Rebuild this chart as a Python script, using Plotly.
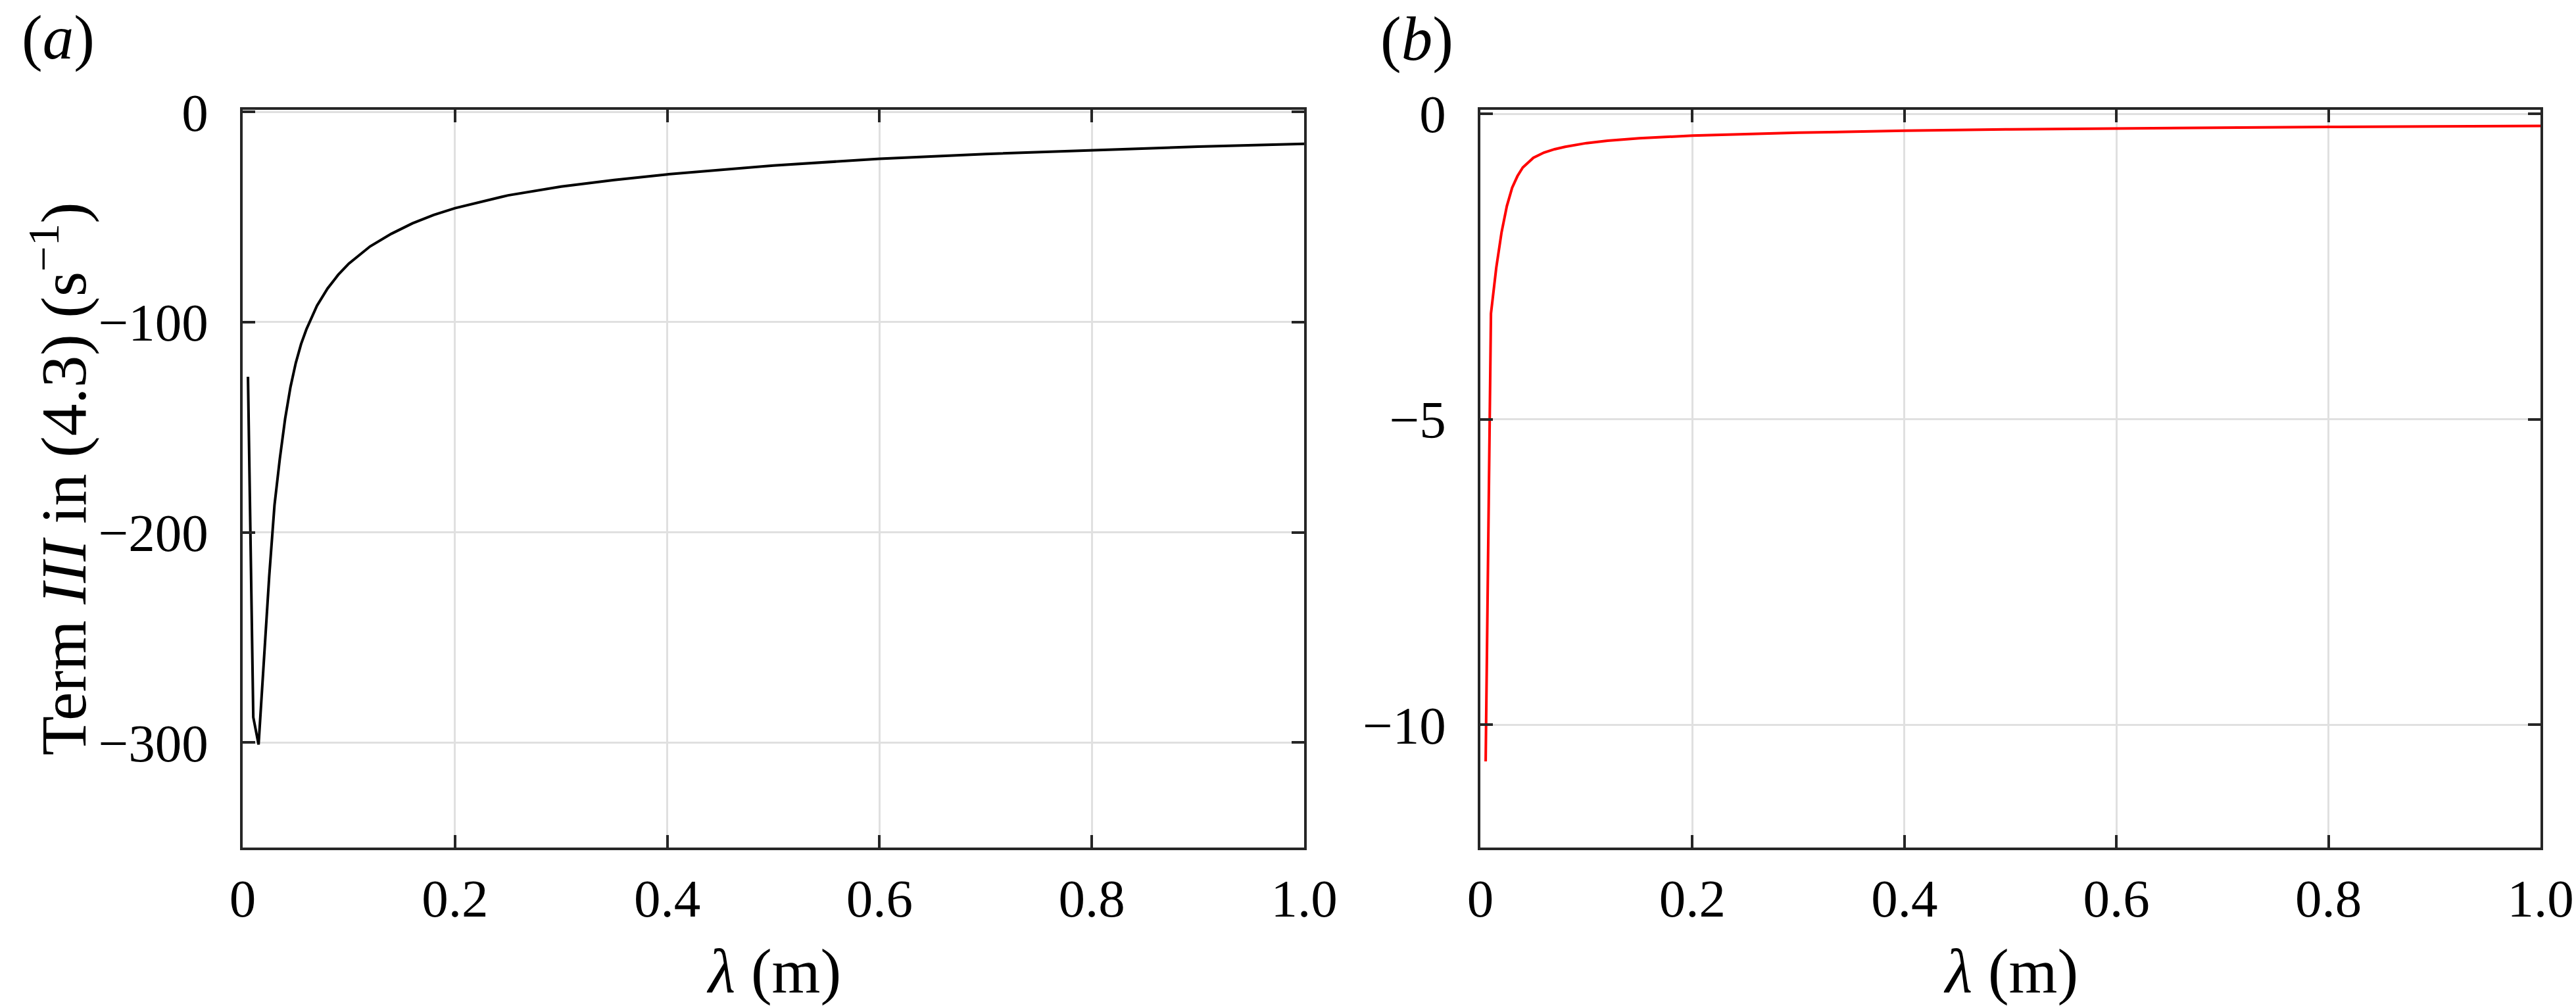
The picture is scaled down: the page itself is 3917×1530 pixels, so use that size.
import plotly.graph_objects as go

# panel (a): term III, black curve
lam_a = [0.005, 0.010, 0.015, 0.020, 0.025, 0.030, 0.035, 0.040, 0.045, 0.050,
         0.055, 0.060, 0.065, 0.070, 0.080, 0.090, 0.100, 0.120, 0.140, 0.160,
         0.180, 0.200, 0.250, 0.300, 0.350, 0.400, 0.500, 0.600, 0.700, 0.800,
         0.900, 1.000]
term_a = [-126, -288, -301, -259, -221, -187, -165, -146, -131, -119.5,
          -110.5, -103.5, -97.5, -92.2, -84, -77.5, -72.2, -64, -58, -53,
          -49, -45.8, -39.7, -35.5, -32.4, -29.7, -25.5, -22.3, -20.0, -18.1,
          -16.5, -15.2]

# panel (b): red curve
lam_b = [0.005, 0.010, 0.015, 0.020, 0.025, 0.030, 0.035, 0.040, 0.050, 0.060,
         0.070, 0.080, 0.100, 0.120, 0.150, 0.200, 0.300, 0.400, 0.500, 0.600,
         0.700, 0.800, 0.900, 1.000]
term_b = [-10.6, -3.27, -2.52, -1.94, -1.51, -1.21, -1.02, -0.88, -0.72, -0.635,
          -0.58, -0.54, -0.48, -0.44, -0.40, -0.358, -0.31, -0.276, -0.255, -0.24,
          -0.226, -0.215, -0.207, -0.20]

x_ticks = [0, 0.2, 0.4, 0.6, 0.8, 1.0]
x_ticktext = ["0", "0.2", "0.4", "0.6", "0.8", "1.0"]
ya_ticks = [0, -100, -200, -300]
ya_ticktext = ["0", "−100", "−200", "−300"]
yb_ticks = [0, -5, -10]
yb_ticktext = ["0", "−5", "−10"]

W, H = 3917, 1530
FONT = "Liberation Serif"
FRAME = "#262626"
GRID = "#e0e0e0"


def px(x):
    return x / W


def py(y):
    return 1 - y / H


fig = go.Figure()
fig.add_trace(go.Scatter(x=lam_a, y=term_a, mode="lines",
                         line=dict(color="black", width=4),
                         xaxis="x", yaxis="y", showlegend=False))
fig.add_trace(go.Scatter(x=lam_b, y=term_b, mode="lines",
                         line=dict(color="#ff0000", width=4),
                         xaxis="x2", yaxis="y2", showlegend=False))

axis_common = dict(
    showline=True, linecolor=FRAME, linewidth=4, mirror="ticks",
    ticks="inside", ticklen=19, tickwidth=4, tickcolor=FRAME,
    showgrid=True, gridcolor=GRID, gridwidth=3,
    zeroline=False, automargin=False,
    tickfont=dict(family=FONT, size=81, color="black"),
)

fig.update_layout(
    template="none",
    width=W, height=H,
    margin=dict(l=0, r=0, t=0, b=0, pad=0),
    paper_bgcolor="white", plot_bgcolor="white",
    xaxis=dict(domain=[px(369), px(1983)], range=[0, 1], anchor="y",
               tickvals=x_ticks, ticktext=x_ticktext, ticklabelstandoff=4,
               **axis_common),
    yaxis=dict(domain=[py(1289), py(167)], range=[-350, 1], anchor="x",
               tickvals=ya_ticks, ticktext=ya_ticktext, ticklabelstandoff=32,
               **axis_common),
    xaxis2=dict(domain=[px(2251), px(3863)], range=[0, 1], anchor="y2",
                tickvals=x_ticks, ticktext=x_ticktext, ticklabelstandoff=4,
                **axis_common),
    yaxis2=dict(domain=[py(1289), py(167)], range=[-12.01, 0.065], anchor="x2",
                tickvals=yb_ticks, ticktext=yb_ticktext, ticklabelstandoff=32,
                **axis_common),
)

label_font = dict(family=FONT, size=95, color="black")
annotations = [
    dict(text="(<i>a</i>)", x=px(31), y=py(57), xanchor="left", yanchor="middle"),
    dict(text="(<i>b</i>)", x=px(2097), y=py(59), xanchor="left", yanchor="middle"),
    dict(text="<i>λ</i> (m)", x=px(1176), y=py(1477), xanchor="center", yanchor="middle"),
    dict(text="<i>λ</i> (m)", x=px(3057), y=py(1477), xanchor="center", yanchor="middle"),
]
for a in annotations:
    fig.add_annotation(xref="paper", yref="paper", showarrow=False, font=label_font, **a)

fig.add_annotation(text="Term <i>III</i> in (4.3) (s<sup>−1</sup>)", xref="paper", yref="paper",
                   x=px(89), y=py(728), xanchor="center", yanchor="middle", textangle=-90,
                   showarrow=False, font=dict(family=FONT, size=98, color="black"))

fig.write_html("out.html", config={"displayModeBar": False},
               post_script="document.body.style.margin='0';document.body.style.overflow='hidden';")
